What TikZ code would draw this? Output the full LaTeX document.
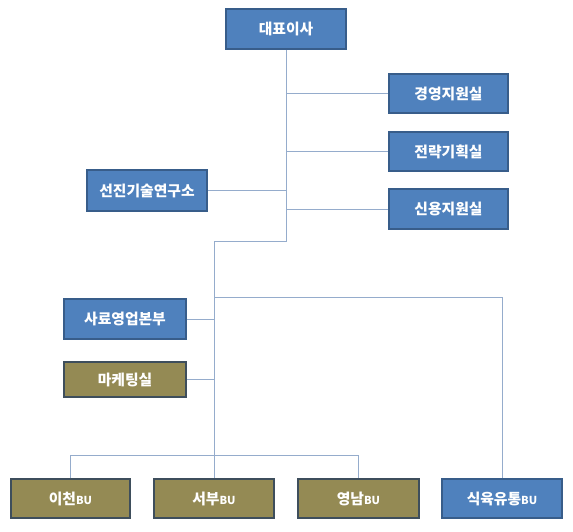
\documentclass[tikz,border=0pt]{standalone}
\usepackage{fontspec}
\setmainfont{Noto Sans CJK KR}
\definecolor{boxblue}{RGB}{79,129,189}
\definecolor{boxblueline}{RGB}{56,93,138}
\definecolor{boxolive}{RGB}{148,138,84}
\definecolor{boxoliveline}{RGB}{62,78,92}
\definecolor{linkblue}{RGB}{149,172,204}

\newcommand{\bu}{{\fontsize{11}{11}\selectfont BU}}

\begin{document}
\begin{tikzpicture}[x=1pt,y=-1pt]

%
% Styles
%
\tikzstyle{unit} = [rectangle,draw=boxblueline,fill=boxblue,line width=1.5pt,text=white,font=\fontsize{14.8}{15}\selectfont\bfseries,minimum width=120pt,minimum height=40pt,inner sep=0pt]
\tikzstyle{field} = [unit,draw=boxoliveline,fill=boxolive]
\tikzstyle{link} = [draw=linkblue,line width=1pt]

\useasboundingbox (0,0) rectangle (573,531);

\node[unit] (ceo) at (286, 29) {대표이사};
\node[unit,minimum width=119pt,minimum height=39pt] (mgmt) at (448.5, 93.5) {경영지원실};
\node[unit,minimum width=119pt,minimum height=39pt] (strat) at (448.5, 151.5) {전략기획실};
\node[unit,minimum width=119pt,minimum height=40pt] (credit) at (448.5, 209) {신용지원실};
\node[unit,minimum height=41pt] (lab) at (147, 190.5) {선진기술연구소};
\node[unit,minimum width=122pt] (feed) at (125, 319) {사료영업본부};
\node[field,minimum width=122pt,minimum height=35pt] (mkt) at (125, 379.5) {마케팅실};
\node[field,minimum width=119pt,minimum height=39pt] (icheon) at (70.5, 498.5) {이천\bu};
\node[field,minimum height=39pt] (west) at (214, 498.5) {서부\bu};
\node[field,minimum width=121pt,minimum height=39pt] (yeongnam) at (358.5, 498.5) {영남\bu};
\node[unit,minimum height=39pt] (meat) at (502, 498.5) {식육유통\bu};

\coordinate (bend) at (286, 241);
\coordinate (bar) at (215, 297);
\coordinate (buline) at (0, 455);

\draw[link] (ceo.south) -- (ceo.south |- bend) -| (west.north);
\draw[link] (ceo.south |- mgmt.west) -- (mgmt.west);
\draw[link] (ceo.south |- strat.west) -- (strat.west);
\draw[link] (ceo.south |- credit.west) -- (credit.west);
\draw[link] (lab.east) -- (lab.east -| ceo.south);
\draw[link] (west.north |- bar) -| (meat.north);
\draw[link] (feed.east) -- (feed.east -| west.north);
\draw[link] (mkt.east) -- (mkt.east -| west.north);
\draw[link] (icheon.north) |- (yeongnam.north |- buline) -- (yeongnam.north);

\end{tikzpicture}
\end{document}
